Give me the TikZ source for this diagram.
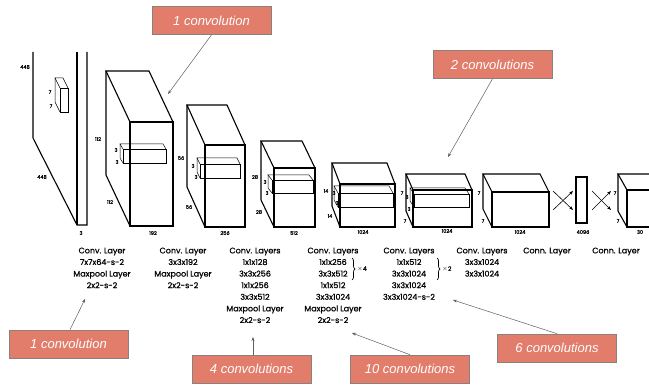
\documentclass[tikz,border=0pt]{standalone}
\usepackage{fontspec}
\setmainfont{Poppins}[FakeBold=0.7]
\newfontfamily\calloutfont{Liberation Sans}
\usetikzlibrary{arrows.meta,decorations.pathreplacing}
\definecolor{calloutfill}{RGB}{226,125,108}
\definecolor{calloutedge}{RGB}{140,128,125}
\definecolor{annline}{RGB}{95,95,95}
\tikzset{
  blk/.style={line width=1.1pt, line join=miter},
  kern/.style={line width=0.5pt},
  dim/.style={font=\fontsize{5}{5}\selectfont, inner sep=0pt},
  lbl/.style={font=\fontsize{8}{11.6}\selectfont, align=center, anchor=north, inner sep=0pt},
  callout/.style={draw=calloutedge, fill=calloutfill, line width=0.6pt, text=white,
    font=\calloutfont\itshape\fontsize{13}{13}\selectfont,
    minimum width=119pt, minimum height=28pt, inner sep=0pt},
  ann/.style={draw=annline, line width=0.5pt, -{Stealth[length=4pt,width=3pt]}},
  xarr/.style={line width=0.6pt, -{Stealth[length=4pt,width=3pt]}}
}
% front top-left x, y, width, height, depth dx, dy
\newcommand{\layerbox}[7][blk]{%
  \draw[#1] (#2,#3) rectangle ++(#4,#5);
  \draw[#1] (#2,#3) -- ++(-#6,-#7) -- ++(#4,0) -- ++(#6,#7);
  \draw[#1] (#2,#3) ++(-#6,-#7) -- ++(0,#5) -- ++(#6,#7);
}
\begin{document}
\begin{tikzpicture}[x=1pt, y=-1pt]
  \useasboundingbox (0,0) rectangle (649,385);
  \fill[white] (0,0) rectangle (649,385);
  \clip (0,0) rectangle (649,385);

  % input image
  \draw[blk] (33,52) -- (33,138) -- (77,225) -- (87,225) -- (87,52);
  \draw[blk] (77,52) -- (77,225);
  \layerbox[kern]{60}{88}{8}{24}{5}{10}

  % conv blocks
  \layerbox{130}{122}{43}{104}{24}{51}
  \layerbox[kern]{123}{149}{43}{14}{3}{5}
  \layerbox{205}{145}{40}{82}{18}{40}
  \layerbox[kern]{200}{164}{40}{14}{3}{6}
  \layerbox{274}{168}{41}{59}{13}{27}
  \layerbox[kern]{272}{180}{41}{13}{4}{5}
  \layerbox{340}{184}{55}{43}{8}{21}
  \layerbox[kern]{338}{193}{55}{14}{4}{7}
  \layerbox{413}{190}{59}{37}{7}{16}
  \layerbox[kern]{414}{194}{55}{13}{4}{6}
  \layerbox{492}{192}{57}{35}{9}{18}
  \draw[blk] (576,177) rectangle (587,223);
  \layerbox{627}{190}{53}{37}{9}{16}

  % connected layers
  \draw[xarr] (553,210) -- (573,191);
  \draw[xarr] (553,191) -- (573,210);
  \draw[xarr] (592,210) -- (611,191);
  \draw[xarr] (592,191) -- (611,210);

  % sizes
  \foreach \x/\y/\t/\n in {25/67/448/s1, 42/177/448/s2, 81/233/3/s3, 50/92/7/s4, 51/106/7/s5,
      98/139/112/s6, 110/202/112/s7, 153/233/192/s8, 116/150/3/s9, 117/162/3/s10,
      181/158/56/s11, 189/207/56/s12, 225/233/256/s13, 193/166/3/s14, 196/177/3/s15,
      255/177/28/s16, 259/212/28/s17, 294/233/512/s18, 265/182/3/s19, 267/193/3/s20,
      326/191/14/s21, 330/216/14/s22, 363/232/1024/s23, 334/193/3/s24, 337/203/3/s25,
      402/193/7/s26, 405/221/7/s27, 447/231/1024/s28, 407/197/3/s29, 409/209/3/s30,
      479/193/7/s31, 483/221/7/s32, 520/232/1024/s33, 583/232/4096/s34,
      615/193/7/s35, 618/221/7/s36, 640/232/30/s37}
    \node[dim] (\n) at (\x,\y) {\t};

  % layer descriptions
  \node[lbl] (col1) at (102,247.5) {Conv. Layer\\7x7x64-s-2\\Maxpool Layer\\2x2-s-2};
  \node[lbl] (col2) at (183,247.5) {Conv. Layer\\3x3x192\\Maxpool Layer\\2x2-s-2};
  \node[lbl] (col3) at (255,247.5) {Conv. Layers\\1x1x128\\3x3x256\\1x1x256\\3x3x512\\Maxpool Layer\\2x2-s-2};
  \node[lbl] (col4) at (333,247.5) {Conv. Layers\\1x1x256\\3x3x512\\1x1x512\\3x3x1024\\Maxpool Layer\\2x2-s-2};
  \node[lbl] (col5) at (409,247.5) {Conv. Layers\\1x1x512\\3x3x1024\\3x3x1024\\3x3x1024-s-2};
  \node[lbl] (col6) at (482,247.5) {Conv. Layers\\3x3x1024\\3x3x1024};
  \node[lbl] (col7) at (547,247.5) {Conn. Layer};
  \node[lbl] (col8) at (616,247.5) {Conn. Layer};
  \draw[kern, line width=0.7pt, decorate, decoration={brace, amplitude=3pt}] (352,258) -- (352,280);
  \node[dim, anchor=west, font=\fontsize{6}{6}\selectfont] (rep4) at (357,269) {$\times$4};
  \draw[kern, line width=0.7pt, decorate, decoration={brace, amplitude=3pt}] (437,258) -- (437,280);
  \node[dim, anchor=west, font=\fontsize{6}{6}\selectfont] (rep2) at (442,269) {$\times$2};

  % callouts
  \node[callout] (one1) at (211.5,20.5) {1 convolution};
  \node[callout] (two) at (492.5,64.5) {2 convolutions};
  \node[callout] (one2) at (68.5,344) {1 convolution};
  \node[callout] (four) at (251.5,369) {4 convolutions};
  \node[callout] (ten) at (410,369) {10 convolutions};
  \node[callout] (six) at (557,348) {6 convolutions};
  \coordinate (t1) at (168,94);
  \coordinate (t2) at (448,157);
  \coordinate (t3) at (85,299);
  \coordinate (t4) at (253,337);
  \coordinate (t5) at (352,333);
  \coordinate (t6) at (453,300);
  \draw[ann] (one1.south) -- (t1);
  \draw[ann] (two.south) -- (t2);
  \draw[ann] (one2.north) ++(1.5,0) -- (t3);
  \draw[ann] (four.north) ++(1.5,0) -- (t4);
  \draw[ann] (ten.north) -- (t5);
  \draw[ann] (six.north) -- (t6);
\end{tikzpicture}
\end{document}
